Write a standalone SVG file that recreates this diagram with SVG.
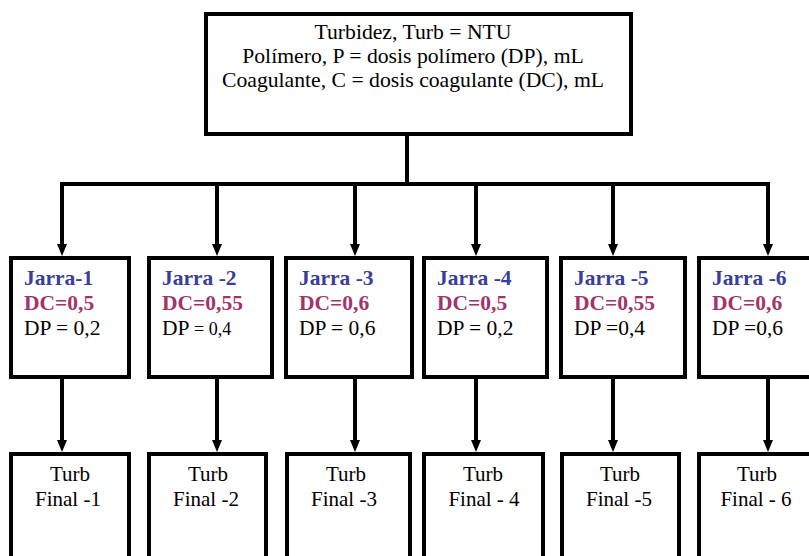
<svg xmlns="http://www.w3.org/2000/svg" width="809" height="556" viewBox="0 0 809 556">
<style>
.box{fill:#fff;stroke:#000;stroke-width:4}
.ln{fill:none;stroke:#000;stroke-width:4;stroke-linejoin:miter}
text{font-family:"Liberation Serif",Tinos,"Times New Roman","DejaVu Serif",serif;font-size:21.5px}
.h{font-size:21.7px}
.f{font-size:21px}
.t{fill:#000}
.j{font-weight:bold;fill:#3a3d9c}
.d{font-weight:bold;fill:#a2346b}
.c{text-anchor:middle}
</style>
<defs>
<marker id="ah" viewBox="0 0 12 10" refX="1" refY="5" markerWidth="12" markerHeight="10" markerUnits="userSpaceOnUse" orient="auto">
<path d="M0,0 L12,5 L0,10 z" fill="#000"/>
</marker>
</defs>
<rect width="809" height="556" fill="#fff"/>
<g id="connectors">
<path class="ln" d="M407,134 V184"/>
<path class="ln" d="M62,184 H768"/>
<path class="ln" d="M62,182 V245" marker-end="url(#ah)"/>
<path class="ln" d="M217,184 V245" marker-end="url(#ah)"/>
<path class="ln" d="M355,184 V245" marker-end="url(#ah)"/>
<path class="ln" d="M476,184 V245" marker-end="url(#ah)"/>
<path class="ln" d="M613,184 V245" marker-end="url(#ah)"/>
<path class="ln" d="M768,182 V245" marker-end="url(#ah)"/>
<path class="ln" d="M62,377 V441" marker-end="url(#ah)"/>
<path class="ln" d="M217,377 V441" marker-end="url(#ah)"/>
<path class="ln" d="M355,377 V441" marker-end="url(#ah)"/>
<path class="ln" d="M476,377 V441" marker-end="url(#ah)"/>
<path class="ln" d="M613,377 V441" marker-end="url(#ah)"/>
<path class="ln" d="M768,377 V441" marker-end="url(#ah)"/>
</g>
<g id="top">
<rect class="box" x="206" y="14" width="425" height="120"/>
<text class="t c h" x="413" y="39">Turbidez, Turb = NTU</text>
<text class="t c h" x="413" y="63">Polímero, P = dosis polímero (DP), mL</text>
<text class="t c h" x="413" y="87">Coagulante, C = dosis coagulante (DC), mL</text>
</g>
<g id="jarra1">
<rect class="box" x="11" y="258" width="118" height="119"/>
<text class="j" x="24" y="285">Jarra-1</text>
<text class="d" x="24" y="310">DC=0,5</text>
<text class="t" x="24" y="335">DP = 0,2</text>
</g>
<g id="jarra2">
<rect class="box" x="149" y="258" width="123" height="119"/>
<text class="j" x="162" y="285">Jarra -2</text>
<text class="d" x="162" y="310">DC=0,55</text>
<text class="t" x="162" y="335">DP <tspan font-size="18">= 0,4</tspan></text>
</g>
<g id="jarra3">
<rect class="box" x="286" y="258" width="126" height="119"/>
<text class="j" x="299" y="285">Jarra -3</text>
<text class="d" x="299" y="310">DC=0,6</text>
<text class="t" x="299" y="335">DP = 0,6</text>
</g>
<g id="jarra4">
<rect class="box" x="424" y="258" width="123" height="119"/>
<text class="j" x="437" y="285">Jarra -4</text>
<text class="d" x="437" y="310">DC=0,5</text>
<text class="t" x="437" y="335">DP = 0,2</text>
</g>
<g id="jarra5">
<rect class="box" x="561" y="258" width="124" height="119"/>
<text class="j" x="574" y="285">Jarra -5</text>
<text class="d" x="574" y="310">DC=0,55</text>
<text class="t" x="574" y="335">DP =0,4</text>
</g>
<g id="jarra6">
<rect class="box" x="699" y="258" width="124" height="119"/>
<text class="j" x="712" y="285">Jarra -6</text>
<text class="d" x="712" y="310">DC=0,6</text>
<text class="t" x="712" y="335">DP =0,6</text>
</g>
<g id="final1">
<rect class="box" x="11" y="454" width="118" height="130"/>
<text class="t c f" x="70" y="481">Turb</text>
<text class="t c f" x="68" y="506">Final -1</text>
</g>
<g id="final2">
<rect class="box" x="149" y="454" width="117" height="130"/>
<text class="t c f" x="208" y="481">Turb</text>
<text class="t c f" x="206" y="506">Final -2</text>
</g>
<g id="final3">
<rect class="box" x="287" y="454" width="123" height="130"/>
<text class="t c f" x="346" y="481">Turb</text>
<text class="t c f" x="344" y="506">Final -3</text>
</g>
<g id="final4">
<rect class="box" x="424" y="454" width="119" height="130"/>
<text class="t c f" x="483" y="481">Turb</text>
<text class="t c f" x="484" y="506">Final - 4</text>
</g>
<g id="final5">
<rect class="box" x="562" y="454" width="117" height="130"/>
<text class="t c f" x="620" y="481">Turb</text>
<text class="t c f" x="619" y="506">Final -5</text>
</g>
<g id="final6">
<rect class="box" x="699" y="454" width="124" height="130"/>
<text class="t c f" x="757" y="481">Turb</text>
<text class="t c f" x="756" y="506">Final - 6</text>
</g>
</svg>
